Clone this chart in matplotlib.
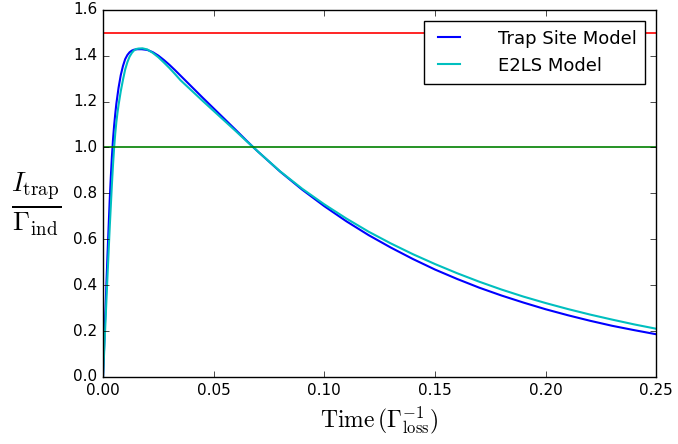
import numpy as np
import matplotlib
matplotlib.use('Agg')
import matplotlib.pyplot as plt

plt.style.use('classic')

# values (blue curve)
t_trap = [0, 0.001, 0.002, 0.003, 0.0035, 0.004, 0.0045, 0.005, 0.0055, 0.006,
          0.007, 0.008, 0.009, 0.010, 0.011, 0.012, 0.013, 0.014, 0.0155, 0.0175,
          0.020, 0.0225, 0.025, 0.0275, 0.030, 0.0325, 0.035, 0.0375, 0.040,
          0.045, 0.050, 0.055, 0.060, 0.065, 0.068, 0.07, 0.08, 0.09, 0.10,
          0.11, 0.12, 0.13, 0.14, 0.15, 0.16, 0.17, 0.18, 0.19, 0.20, 0.21,
          0.22, 0.23, 0.24, 0.25]
i_trap = [0, 0.27, 0.53, 0.77, 0.87, 0.96, 1.035, 1.095, 1.145, 1.19,
          1.26, 1.315, 1.355, 1.385, 1.403, 1.415, 1.422, 1.426, 1.428, 1.428,
          1.425, 1.415, 1.400, 1.381, 1.360, 1.337, 1.313, 1.289, 1.265,
          1.217, 1.170, 1.123, 1.076, 1.028, 1.0, 0.982, 0.895, 0.816, 0.744,
          0.678, 0.618, 0.564, 0.514, 0.468, 0.427, 0.389, 0.355, 0.324, 0.295,
          0.269, 0.245, 0.223, 0.204, 0.186]

# cyan curve
t_e2ls = [0, 0.001, 0.002, 0.003, 0.004, 0.0045, 0.005, 0.0055, 0.006, 0.0065,
          0.007, 0.008, 0.009, 0.010, 0.011, 0.012, 0.013, 0.014, 0.015, 0.016,
          0.0178, 0.020, 0.0225, 0.025, 0.0275, 0.030, 0.0325, 0.035, 0.0375,
          0.040, 0.045, 0.050, 0.055, 0.060, 0.065, 0.068, 0.07, 0.08, 0.09,
          0.10, 0.11, 0.12, 0.13, 0.14, 0.15, 0.16, 0.17, 0.18, 0.19, 0.20,
          0.21, 0.22, 0.23, 0.24, 0.25]
i_e2ls = [0, 0.22, 0.44, 0.65, 0.84, 0.925, 1.0, 1.06, 1.11, 1.15,
          1.185, 1.245, 1.295, 1.34, 1.372, 1.396, 1.412, 1.423, 1.429, 1.431,
          1.432, 1.427, 1.412, 1.393, 1.370, 1.346, 1.320, 1.293, 1.2705,
          1.248, 1.203, 1.159, 1.115, 1.071, 1.026, 1.0, 0.982, 0.896, 0.820,
          0.752, 0.690, 0.633, 0.582, 0.535, 0.492, 0.452, 0.415, 0.381, 0.350, 0.322,
          0.296, 0.272, 0.250, 0.229, 0.210]

level_high = 1.5
level_one = 1.0

fig = plt.figure(figsize=(6.78, 4.44), dpi=100, facecolor='white')
ax = fig.add_axes([0.152, 0.151, 0.816, 0.827])

ax.plot(t_trap, i_trap, color='b', lw=1.5, label='Trap Site Model')
ax.plot(t_e2ls, i_e2ls, color='c', lw=1.5, label='E2LS Model')
ax.axhline(level_high, color='r', lw=1.2)
ax.axhline(level_one, color='g', lw=1.2)

ax.set_xlim(0, 0.25)
ax.set_ylim(0, 1.6)
ax.set_xticks(np.arange(0, 0.26, 0.05))
ax.set_yticks(np.arange(0, 1.61, 0.2))
ax.tick_params(labelsize=11)

ax.set_xlabel(r'$\mathrm{Time}\,(\Gamma_{\rm loss}^{-1})$', fontsize=17)
ax.set_ylabel(r'$\frac{I_{\rm trap}}{\Gamma_{\rm ind}}$', fontsize=28,
              rotation=0, va='center', ha='center')
ax.yaxis.set_label_coords(-0.121, 0.47)

ax.legend(loc='upper right', fontsize=13, handletextpad=1.8,
          handlelength=1.8, borderaxespad=0.6, labelspacing=0.5,
          borderpad=0.5)

fig.savefig('out.png', dpi=100, facecolor='white')
